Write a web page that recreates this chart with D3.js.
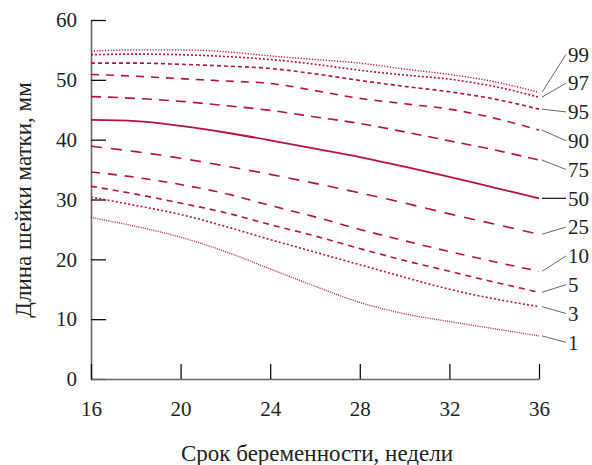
<!DOCTYPE html>
<html>
<head>
<meta charset="utf-8">
<script src="https://cdn.jsdelivr.net/npm/d3@7"></script>
<style>
  body { margin: 0; background: #fff; }
  svg text { font-family: "Liberation Serif", "DejaVu Serif", serif; fill: #222; }
</style>
</head>
<body>
<div id="chart"></div>
<script>
// Dados: срок (недели) и перцентили длины шейки матки (мм)
const weeks = [16, 18, 20, 22, 24, 26, 28, 30, 32, 34, 36];
const percentiles = ["99", "97", "95", "90", "75", "50", "25", "10", "5", "3", "1"];

const p99 = [54.8, 55.0, 55.0, 54.7, 54.0, 53.4, 52.8, 51.8, 50.9, 49.7, 47.9];
const p97 = [54.2, 54.3, 54.2, 53.9, 53.4, 52.6, 51.6, 50.8, 50.1, 48.9, 47.1];
const p95 = [52.8, 52.8, 52.6, 52.3, 51.9, 51.0, 49.9, 48.9, 48.0, 46.8, 45.1];
const p90 = [50.9, 50.6, 50.2, 49.8, 49.4, 48.2, 46.9, 46.0, 45.1, 43.6, 41.6];
const p75 = [47.2, 46.9, 46.4, 45.7, 44.9, 43.8, 42.7, 41.3, 39.8, 38.3, 36.6];
const p50 = [43.3, 43.1, 42.3, 41.2, 39.9, 38.5, 37.1, 35.5, 33.8, 32.0, 30.2];
const p25 = [38.9, 38.0, 36.9, 35.6, 34.2, 32.7, 31.1, 29.4, 27.6, 25.9, 24.2];
const p10 = [34.6, 33.7, 32.5, 31.0, 29.0, 27.1, 25.0, 23.1, 21.3, 19.6, 18.0];
const p5  = [32.2, 30.9, 29.4, 27.8, 25.8, 23.9, 21.8, 19.8, 18.0, 16.2, 14.5];
const p3  = [30.4, 29.0, 27.5, 25.5, 23.3, 21.2, 19.1, 17.0, 15.0, 13.4, 12.1];
const p1  = [27.0, 25.5, 23.7, 21.3, 18.4, 15.5, 12.8, 10.9, 9.6, 8.4, 7.2];

const xTicks = [16, 20, 24, 28, 32, 36];
const yTicks = [0, 10, 20, 30, 40, 50, 60];

const seriesValues = [p99, p97, p95, p90, p75, p50, p25, p10, p5, p3, p1];

// estilo de cada linha
const dashes = ["1.2,1.6", "2,2", "4,3", "8,7", "10,7", null, "11,9", "9,8", "6,5", "2,2.2", "1,1.2"];
const widths = [1.4, 1.6, 1.6, 1.6, 1.6, 1.8, 1.6, 1.6, 1.6, 1.6, 1.3];

const width = 592, height = 465;
const margin = { top: 20, right: 53, bottom: 86, left: 91 };

const svg = d3.select("#chart")
  .append("svg")
  .attr("width", width)
  .attr("height", height);

const x = d3.scaleLinear()
  .domain([16, 36])
  .range([margin.left, width - margin.right]);

const y = d3.scaleLinear()
  .domain([0, 60])
  .range([height - margin.bottom, margin.top]);

// Eixo Y
const gy = svg.append("g")
  .attr("transform", `translate(${margin.left},0)`)
  .call(d3.axisLeft(y).tickValues(yTicks).tickSize(-15).tickSizeOuter(0).tickPadding(14));
gy.select(".domain").attr("stroke", "#666").attr("stroke-width", 1.6);
gy.selectAll(".tick line").attr("stroke", "#111").attr("stroke-width", 1.3);
gy.selectAll(".tick text").style("font-size", "21px").attr("fill", "#222");

// Eixo X
const gx = svg.append("g")
  .attr("transform", `translate(0,${height - margin.bottom})`)
  .call(d3.axisBottom(x).tickValues(xTicks).tickSize(-15).tickSizeOuter(0).tickPadding(22));
gx.select(".domain").attr("stroke", "#666").attr("stroke-width", 1.6);
gx.selectAll(".tick line").attr("stroke", "#111").attr("stroke-width", 1.3);
gx.selectAll(".tick text").style("font-size", "21px").attr("fill", "#222");

// Linhas
const line = d3.line()
  .x((d, i) => x(weeks[i]))
  .y(d => y(d))
  .curve(d3.curveMonotoneX);

svg.selectAll("path.curve")
  .data(seriesValues)
  .enter()
  .append("path")
  .attr("class", "curve")
  .attr("d", d => line(d))
  .attr("fill", "none")
  .attr("stroke", "#b5123f")
  .attr("stroke-width", (d, i) => widths[i])
  .attr("stroke-dasharray", (d, i) => dashes[i]);

// Rótulos dos percentis com linhas de chamada
const labelStep = 28.8;
const y50 = y(p50[p50.length - 1]);
const xEnd = x(36);

percentiles.forEach((p, i) => {
  const yEnd = y(seriesValues[i][seriesValues[i].length - 1]);
  const ly = y50 + (i - 5) * labelStep;
  svg.append("line")
    .attr("x1", xEnd + 3)
    .attr("y1", yEnd)
    .attr("x2", xEnd + 27)
    .attr("y2", ly)
    .attr("stroke", p === "50" ? "#111" : "#555")
    .attr("stroke-width", p === "50" ? 1.2 : 0.9);
  svg.append("text")
    .attr("x", xEnd + 29)
    .attr("y", ly)
    .attr("dy", "0.35em")
    .style("font-size", "21px")
    .text(p);
});

// Títulos dos eixos
svg.append("text")
  .attr("x", (margin.left + width - margin.right) / 2 + 2)
  .attr("y", 461)
  .attr("text-anchor", "middle")
  .style("font-size", "23px")
  .text("Срок беременности, недели");

svg.append("text")
  .attr("transform", "translate(31,200) rotate(-90)")
  .attr("text-anchor", "middle")
  .style("font-size", "23px")
  .text("Длина шейки матки, мм");
</script>
</body>
</html>
